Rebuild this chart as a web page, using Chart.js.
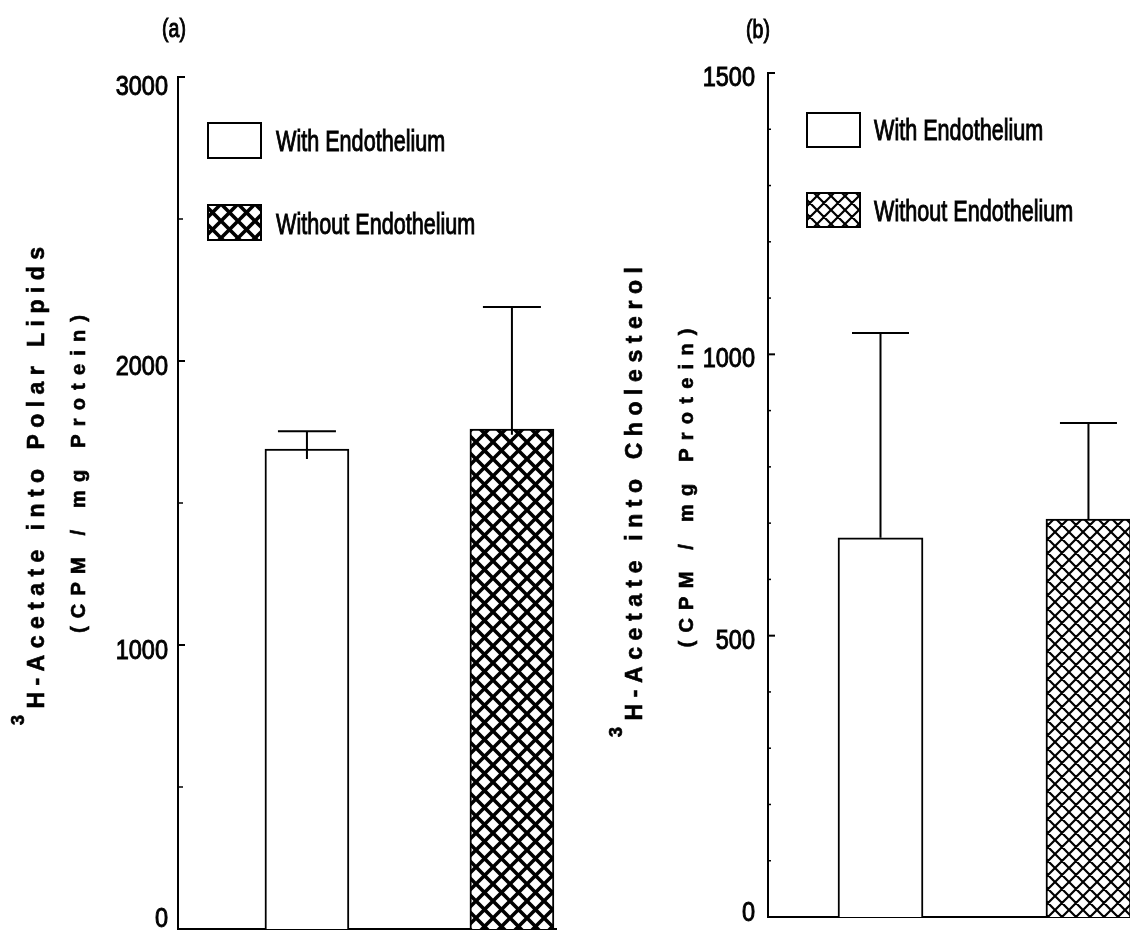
<!DOCTYPE html>
<html>
<head>
<meta charset="utf-8">
<script src="https://cdn.jsdelivr.net/npm/chart.js@4.4.0/dist/chart.umd.min.js"></script>
<style>
html, body { margin: 0; padding: 0; background: #fff; overflow: hidden; width: 1130px; height: 930px; }
canvas { position: absolute; top: 0; }
#chartA { left: 0; }
#chartB { left: 565px; }
</style>
</head>
<body>
<canvas id="chartA" width="565" height="930"></canvas>
<canvas id="chartB" width="600" height="930"></canvas>
<script>
// values
const categories = ['With Endothelium', 'Without Endothelium'];

const polarMeans = [1690, 1760];
const polarErrors = [63, 430];
const polarWhiskerLow = [1655, 1740];
const polarTickLabels = [0, 1000, 2000, 3000];

const cholMeans = [674, 707];
const cholErrors = [364, 171];
const cholWhiskerLow = [674, 707];
const cholTickLabels = [0, 500, 1000, 1500];

const SANS = '"Liberation Sans", Arial, Helvetica, sans-serif';

// cross hatch tile for the "without" bars
function hatch(ctx, size, lw)
{
    let tile = document.createElement('canvas');
    tile.width = size;
    tile.height = size;
    let t = tile.getContext('2d');
    t.fillStyle = '#fff';
    t.fillRect(0, 0, size, size);
    t.strokeStyle = '#000';
    t.lineWidth = lw;
    t.beginPath();
    for (let o = -size; o <= size; o += size)
    {
        t.moveTo(o - 2, -2); t.lineTo(o + size + 2, size + 2);
        t.moveTo(o + size + 2, -2); t.lineTo(o - 2, size + 2);
    }
    t.stroke();
    return ctx.createPattern(tile, 'repeat');
}

// the figure uses a condensed face, so squeeze a normal one (and thicken it a bit)
function squeezed(ctx, text, x, y, sx)
{
    ctx.save();
    ctx.translate(x, y);
    ctx.scale(sx, 1);
    ctx.fillText(text, 0, 0);
    ctx.lineWidth = 1;
    ctx.strokeStyle = '#000';
    ctx.strokeText(text, 0, 0);
    ctx.restore();
}

// rotated axis title with wide letter spacing
function spacedTitle(ctx, line)
{
    ctx.save();
    ctx.translate(line.x, line.y);
    ctx.rotate(-Math.PI / 2);
    ctx.fillStyle = '#000';
    ctx.strokeStyle = '#000';
    ctx.lineWidth = 0.6;
    ctx.textBaseline = 'middle';
    ctx.textAlign = 'left';
    let glyphs = [];
    if (line.sup) glyphs.push({ch: line.sup, font: 'bold 18px ' + SANS, dy: -19});
    for (let ch of line.text) glyphs.push({ch: ch, font: 'bold ' + line.size + 'px ' + SANS, dy: 0});
    let sum = 0;
    glyphs.forEach(g => { ctx.font = g.font; g.w = ctx.measureText(g.ch).width; sum += g.w; });
    let gap = (line.len - sum) / (glyphs.length - 1);
    let pos = -line.len / 2;
    glyphs.forEach(g =>
    {
        ctx.font = g.font;
        ctx.fillText(g.ch, pos, g.dy);
        ctx.strokeText(g.ch, pos, g.dy);
        pos += g.w + gap;
    });
    ctx.restore();
}

function panel(id, opt)
{
    let ctx = document.getElementById(id).getContext('2d');
    let colors = ['#ffffff', hatch(ctx, opt.hatch, opt.hatchWidth)];

    let overlay =
    {
        id: 'overlay',
        afterDatasetsDraw(chart)
        {
            let c = chart.ctx;
            let ys = chart.scales.y;
            let meta = chart.getDatasetMeta(0);
            c.save();
            c.strokeStyle = '#000';
            c.lineWidth = 2;
            meta.data.forEach((bar, i) =>
            {
                let top = ys.getPixelForValue(opt.means[i] + opt.errors[i]);
                let low = ys.getPixelForValue(opt.low[i]);
                c.beginPath();
                c.moveTo(bar.x, low);
                c.lineTo(bar.x, top);
                c.moveTo(bar.x - opt.cap / 2, top);
                c.lineTo(bar.x + opt.cap / 2, top);
                c.stroke();
            });
            c.restore();
        },
        afterDraw(chart)
        {
            let c = chart.ctx;
            let ys = chart.scales.y;
            c.save();
            c.strokeStyle = '#000';
            c.fillStyle = '#000';

            // inward tick marks and labels
            c.font = '28px ' + SANS;
            c.textAlign = 'right';
            c.textBaseline = 'alphabetic';
            let last = ys.ticks.length - 1;
            ys.ticks.forEach((t, i) =>
            {
                let py = ys.getPixelForValue(t.value);
                let major = opt.tickLabels.includes(t.value);
                c.lineWidth = major ? 2 : 1.5;
                c.beginPath();
                c.moveTo(ys.right, py);
                c.lineTo(ys.right + (major ? 7 : opt.minorLen), py);
                c.stroke();
                if (major)
                {
                    let s = i === 0 ? opt.shift.bottom : (i === last ? opt.shift.top : opt.shift.other);
                    squeezed(c, String(t.value), ys.right - opt.labelPad, py + s + 10, 0.84);
                }
            });

            // legend
            let lg = opt.legend;
            c.font = '30px ' + SANS;
            c.textAlign = 'left';
            categories.forEach((name, i) =>
            {
                c.fillStyle = colors[i];
                c.fillRect(lg.x, lg.ys[i], lg.w, lg.h);
                c.lineWidth = 2;
                c.strokeRect(lg.x, lg.ys[i], lg.w, lg.h);
                c.fillStyle = '#000';
                squeezed(c, name, lg.textX, lg.baselines[i], 0.72);
            });

            // panel tag
            c.font = '25px ' + SANS;
            c.textAlign = 'center';
            c.textBaseline = 'middle';
            squeezed(c, opt.tag.text, opt.tag.x, opt.tag.y, 0.78);

            opt.titles.forEach(line => spacedTitle(c, line));
            c.restore();
        }
    };

    return new Chart(ctx,
    {
        type: 'bar',
        data:
        {
            labels: categories,
            datasets:
            [{
                data: opt.means.map((v, i) => ({x: i, y: v})),
                backgroundColor: colors,
                borderColor: '#000',
                borderWidth: 2,
                barThickness: opt.barThickness
            }]
        },
        options:
        {
            responsive: false,
            animation: false,
            devicePixelRatio: 1,
            layout: { padding: opt.padding },
            plugins:
            {
                legend: { display: false },
                tooltip: { enabled: false }
            },
            scales:
            {
                x:
                {
                    type: 'linear',
                    min: opt.xMin,
                    max: opt.xMax,
                    offset: false,
                    ticks: { display: false },
                    grid: { display: false, drawTicks: false, offset: false },
                    border: { color: '#000', width: 2 },
                    afterFit: s => { s.height = 0; }
                },
                y:
                {
                    min: 0,
                    max: opt.max,
                    ticks: { display: false, stepSize: opt.minor },
                    grid: { display: false, drawTicks: false },
                    border: { color: '#000', width: 2 },
                    afterFit: s => { s.width = opt.axisX; }
                }
            }
        },
        plugins: [overlay]
    });
}

panel('chartA',
{
    means: polarMeans, errors: polarErrors, low: polarWhiskerLow, tickLabels: polarTickLabels,
    max: 3000, minor: 500, minorLen: 5,
    padding: {top: 77, bottom: 1, left: 0, right: 9}, axisX: 178,
    xMin: -0.629, xMax: 1.215, barThickness: 84, cap: 58,
    hatch: 17, hatchWidth: 3.6, labelPad: 10,
    shift: {bottom: -12, top: 8, other: 4},
    legend: {x: 208, w: 53, h: 35, ys: [123, 205], textX: 276, baselines: [151, 234]},
    titles:
    [
        {sup: '3', text: 'H-Acetate into Polar Lipids', size: 23, x: 38, y: 486, len: 478},
        {sup: '', text: '(CPM / mg Protein)', size: 20, x: 79, y: 474, len: 318}
    ],
    tag: {text: '(a)', x: 174, y: 30}
});

panel('chartB',
{
    means: cholMeans, errors: cholErrors, low: cholWhiskerLow, tickLabels: cholTickLabels,
    max: 1500, minor: 100, minorLen: 3,
    padding: {top: 73, bottom: 13, left: 0, right: 10}, axisX: 203,
    xMin: -0.541, xMax: 1.32, barThickness: 85, cap: 57,
    hatch: 14, hatchWidth: 2.2, labelPad: 13,
    shift: {bottom: -6, top: 3, other: 3},
    legend: {x: 242, w: 53, h: 34, ys: [113, 193], textX: 309, baselines: [140, 221]},
    titles:
    [
        {sup: '3', text: 'H-Acetate into Cholesterol', size: 23, x: 71, y: 502, len: 470},
        {sup: '', text: '(CPM / mg Protein)', size: 20, x: 122, y: 488, len: 319}
    ],
    tag: {text: '(b)', x: 193, y: 31}
});
</script>
</body>
</html>
